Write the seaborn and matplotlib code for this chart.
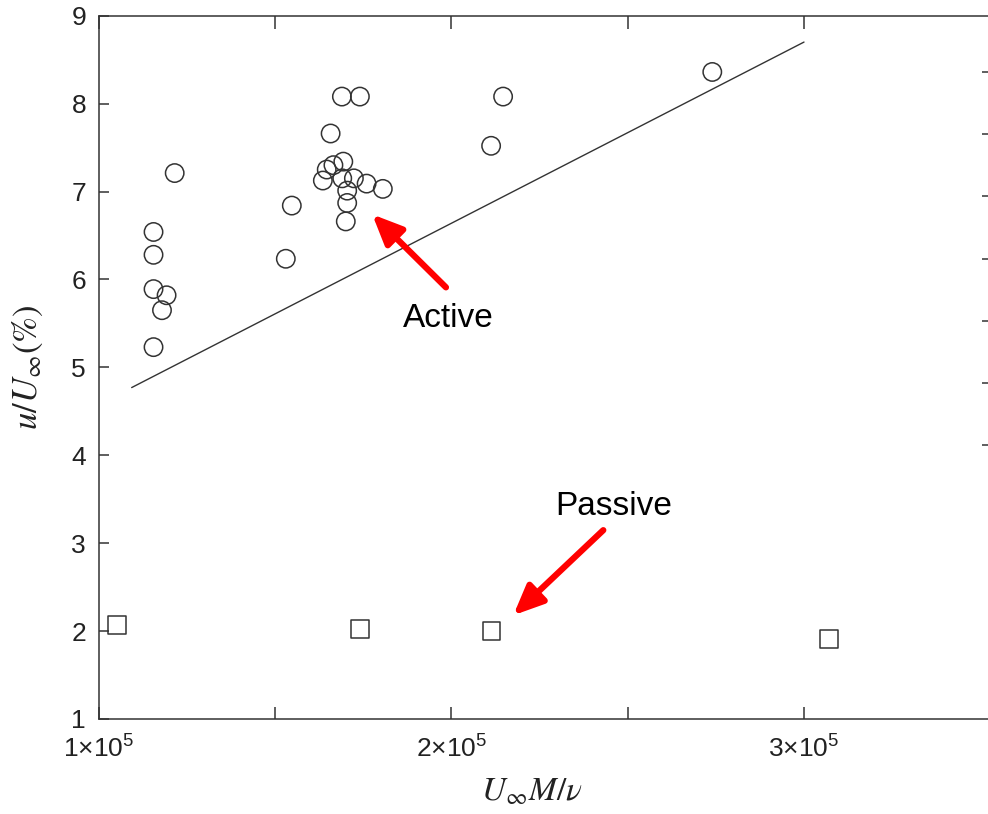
import matplotlib
matplotlib.use("Agg")
import matplotlib.pyplot as plt
import seaborn as sns
import pandas as pd

# ---- data ----
active_x = [1.690e5, 1.741e5, 1.658e5, 1.216e5, 1.694e5, 1.666e5, 1.647e5, 1.636e5,
            1.691e5, 1.724e5, 1.760e5, 1.806e5, 1.705e5, 1.705e5, 1.701e5, 1.548e5,
            1.531e5, 1.156e5, 1.156e5, 1.156e5, 1.193e5, 1.180e5, 1.156e5,
            2.113e5, 2.147e5, 2.740e5]
active_y = [8.08, 8.08, 7.66, 7.21, 7.34, 7.30, 7.25, 7.125,
            7.15, 7.15, 7.09, 7.03, 7.01, 6.87, 6.66, 6.84,
            6.235, 6.54, 6.28, 5.89, 5.82, 5.65, 5.23,
            7.52, 8.08, 8.36]
passive_x = [1.053e5, 1.741e5, 2.114e5, 3.071e5]
passive_y = [2.07, 2.02, 2.00, 1.91]
fit_x = [1.094e5, 3.0e5]
fit_y = [4.77, 8.70]
xtick_vals = [1e5, 2e5, 3e5]
xtick_labels = [r"$\mathregular{1{\times}10^5}$", r"$\mathregular{2{\times}10^5}$",
                r"$\mathregular{3{\times}10^5}$"]
xminor_vals = [1.5e5, 2.5e5]
ytick_vals = [1, 2, 3, 4, 5, 6, 7, 8, 9]

sns.set_style("white")
plt.rcParams["font.family"] = ["Liberation Sans", "DejaVu Sans"]
plt.rcParams["mathtext.fontset"] = "stix"

fig = plt.figure(figsize=(9.88, 8.14), dpi=100)
ax = fig.add_axes([98.5 / 988, 95 / 814, 890.5 / 988, 703.3 / 814])

dark = "#333333"
df_a = pd.DataFrame({"x": active_x, "y": active_y})
df_p = pd.DataFrame({"x": passive_x, "y": passive_y})
df_f = pd.DataFrame({"x": fit_x, "y": fit_y})

sns.lineplot(data=df_f, x="x", y="y", ax=ax, color=dark, lw=1.0)
sns.scatterplot(data=df_a, x="x", y="y", ax=ax, marker="o", s=175,
                facecolor="none", edgecolor=dark, linewidth=1.1)
sns.scatterplot(data=df_p, x="x", y="y", ax=ax, marker="s", s=165,
                facecolor="none", edgecolor=dark, linewidth=1.1)

ax.set_xlim(1e5, 1e5 + 890.5 / 352.75 * 1e5)
ax.set_ylim(1, 9)

ax.set_xticks(xtick_vals)
ax.set_xticklabels(xtick_labels)
ax.set_xticks(xminor_vals, minor=True)
ax.set_yticks(ytick_vals)
ax.set_yticklabels([str(v) for v in ytick_vals])

ax.tick_params(axis="x", which="both", direction="in", length=9, width=1.1,
               color=dark, top=True, bottom=True, labelsize=19, pad=12,
               labelcolor="#222222")
ax.tick_params(axis="y", which="both", direction="in", length=7, width=1.1,
               color=dark, left=True, right=False, labelsize=19, pad=9,
               labelcolor="#222222")

for side in ["left", "bottom", "top"]:
    ax.spines[side].set_color(dark)
    ax.spines[side].set_linewidth(1.1)
ax.spines["right"].set_visible(False)

# right-side tick marks (separate scale in the original)
ax2 = ax.twinx()
ax2.set_ylim(-3.41, 7.91)
ax2.set_yticks([1, 2, 3, 4, 5, 6, 7])
ax2.tick_params(axis="y", direction="in", length=5, width=1.1, color=dark,
                labelright=False)
for s in ax2.spines.values():
    s.set_visible(False)

ax.set_xlabel(r"$U_{\infty}M/\nu$", fontsize=24, color="#222222")
ax.set_ylabel(r"$u/U_{\infty}(\%)$", fontsize=25, color="#222222")
ax.xaxis.set_label_coords(0.487, -0.082)
ax.yaxis.set_label_coords(-0.060, 0.5)

arrow = dict(arrowstyle="-|>,head_length=0.5,head_width=0.22", color="red",
             lw=4.5, mutation_scale=36, shrinkA=0, shrinkB=0)
ax.annotate("", xy=(1.776e5, 6.74), xytext=(1.985e5, 5.91), arrowprops=arrow)
ax.annotate("", xy=(2.176e5, 2.18), xytext=(2.431e5, 3.148), arrowprops=arrow)
ax.text(1.992e5, 5.455, "Active", fontsize=24, ha="center", va="baseline", color="black")
ax.text(2.46e5, 3.318, "Passive", fontsize=24, ha="center", va="baseline", color="black")

fig.savefig("out.png", dpi=100)
